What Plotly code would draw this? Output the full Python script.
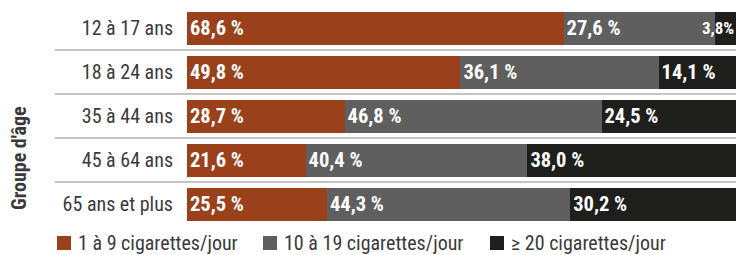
import plotly.graph_objects as go

groups = ["12 à 17 ans", "18 à 24 ans", "35 à 44 ans", "45 à 64 ans", "65 ans et plus"]
series_names = ["1 à 9 cigarettes/jour", "10 à 19 cigarettes/jour", "≥ 20 cigarettes/jour"]
light = [68.6, 49.8, 28.7, 21.6, 25.5]
medium = [27.6, 36.1, 46.8, 40.4, 44.3]
heavy = [3.8, 14.1, 24.5, 38.0, 30.2]
colors = ["#9a401b", "#5e5f5e", "#1e1e1d"]

FONT = "Roboto Condensed, Liberation Sans Narrow, Roboto, sans-serif"
W, H = 736, 255
ML, MR, MT, MB = 187, 0, 6, 29
PW, PH = W - ML - MR, H - MT - MB

def px_x(p):
    return (p - ML) / PW

def px_y(p):
    return (H - MB - p) / PH

def fmt(v):
    return f"{v:.1f} %".replace(".", ",")

fig = go.Figure()
for name, vals, col in zip(series_names, [light, medium, heavy], colors):
    texts = [fmt(v) if v >= 5 else "" for v in vals]
    fig.add_trace(go.Bar(
        y=groups, x=vals, name=name, orientation="h",
        marker=dict(color=col, line=dict(width=0)),
        width=0.75,
        text=texts, textposition="inside", insidetextanchor="start",
        textfont=dict(family=FONT, size=20.5, color="white", weight="bold"),
        constraintext="none", cliponaxis=False, showlegend=False,
        hoverinfo="skip",
    ))

# small values labelled with annotations (too narrow for inside text)
for g, v, m, l in zip(groups, heavy, medium, light):
    if v < 5:
        fig.add_annotation(x=l + m + v, y=g, xref="x", yref="y", text=f"{v:.1f}%".replace(".", ","),
                           showarrow=False, xanchor="right", xshift=0,
                           font=dict(family=FONT, size=17, color="white", weight="bold"))

shapes = []
for i in range(len(groups) - 1):
    shapes.append(dict(type="line", xref="paper", yref="y", x0=px_x(55), x1=1,
                       y0=i + 0.5, y1=i + 0.5, line=dict(color="#c4c4c4", width=2), layer="below"))

# legend (manual, positioned like the reference)
leg_x = [57, 263, 490]
leg_y = 243
for name, col, lx in zip(series_names, colors, leg_x):
    shapes.append(dict(type="rect", xref="paper", yref="paper",
                       x0=px_x(lx), x1=px_x(lx + 14), y0=px_y(leg_y - 7), y1=px_y(leg_y + 7),
                       fillcolor=col, line=dict(width=0)))
    fig.add_annotation(x=px_x(lx + 19), y=px_y(leg_y), xref="paper", yref="paper", text=name,
                       showarrow=False, xanchor="left", yanchor="middle",
                       font=dict(family=FONT, size=20, color="#3a3a3a"))

fig.add_annotation(x=px_x(19), y=px_y(158), xref="paper", yref="paper", text="<b>Groupe d'âge</b>",
                   textangle=-90, showarrow=False, xanchor="center", yanchor="middle",
                   font=dict(family=FONT, size=20, color="#3a3a3a"))

fig.update_layout(
    width=W, height=H,
    margin=dict(l=ML, r=MR, t=MT, b=MB, autoexpand=False),
    barmode="stack", bargap=0.25,
    plot_bgcolor="white", paper_bgcolor="white",
    shapes=shapes,
    showlegend=False,
    hovermode=False,
    xaxis=dict(range=[0, 100], visible=False, fixedrange=True),
    yaxis=dict(autorange=False, range=[4.5, -0.5], type="category", fixedrange=True,
               showgrid=False, zeroline=False, showline=False, ticks="",
               ticklabelstandoff=13,
               tickfont=dict(family=FONT, size=20, color="#3a3a3a")),
)

fig.write_html("out.html", config={"displayModeBar": False},
               post_script="document.body.style.margin='0';document.body.style.overflow='hidden';")
